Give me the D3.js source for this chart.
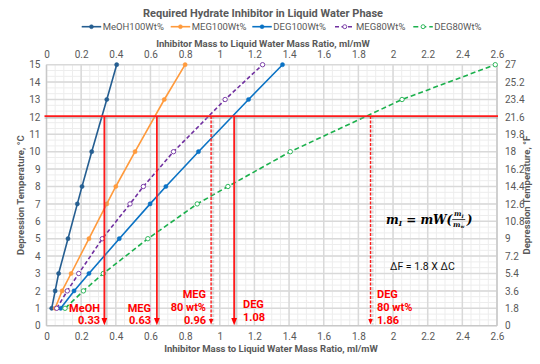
<!DOCTYPE html>
<html><head><meta charset="utf-8">
<script src="https://cdn.jsdelivr.net/npm/d3@7"></script>
<style>
body{margin:0;background:#fff;}
svg{display:block;font-family:Roboto, "Liberation Sans", sans-serif;}
</style></head><body>
<svg id="c" width="540" height="364"></svg>
<script>
// ---- data ----
const depressionC = [1,2,3,5,7,8,10,13,15];
const meoh100 = [0.03,0.05,0.07,0.124,0.178,0.205,0.261,0.348,0.405];
const meg100  = [0.05,0.09,0.142,0.245,0.348,0.40,0.511,0.68,0.80];
const deg100  = [0.082,0.159,0.245,0.42,0.598,0.689,0.877,1.166,1.362];
const meg80   = [0.059,0.12,0.186,0.322,0.482,0.559,0.733,1.031,1.247];
const deg80   = [0.107,0.213,0.328,0.585,0.87,1.047,1.407,2.052,2.59];
const seriesNames = ["MeOH100Wt%","MEG100Wt%","DEG100Wt%","MEG80Wt%","DEG80Wt%"];
const xTicks = [0,0.2,0.4,0.6,0.8,1,1.2,1.4,1.6,1.8,2,2.2,2.4,2.6];
const yTicksC = [0,1,2,3,4,5,6,7,8,9,10,11,12,13,14,15];
const yTicksF = [0,1.8,3.6,5.4,7.2,9,10.8,12.6,14.4,16.2,18,19.8,21.6,23.4,25.2,27];
const targetC = 12.05;
const readX = [0.334,0.637,0.95,1.083,1.87];
const readLabels = [["MeOH","0.33"],["MEG","0.63"],["MEG","80 wt%","0.96"],["DEG","1.08"],["DEG","80 wt%","1.86"]];
const readDashed = [false,false,true,false,true];

const svg = d3.select("#c");
const x = d3.scaleLinear([0,2.6],[46.5,497]);
const y = d3.scaleLinear([0,15],[325.7,64.7]);
const yF = d3.scaleLinear([0,27],[325.7,64.7]);
const grey = "#595959";

// grid
const g = svg.append("g");
d3.range(0,2.6001,0.05).forEach(v=>{
  g.append("line").attr("x1",x(v)).attr("x2",x(v)).attr("y1",y(0)).attr("y2",y(15))
   .attr("stroke","#ededed").attr("stroke-width",1);
});
d3.range(0,15.001,1/3).forEach(v=>{
  g.append("line").attr("x1",x(0)).attr("x2",x(2.6)).attr("y1",y(v)).attr("y2",y(v))
   .attr("stroke","#ededed").attr("stroke-width",1);
});
xTicks.forEach(v=>{
  g.append("line").attr("x1",x(v)).attr("x2",x(v)).attr("y1",y(0)).attr("y2",y(15))
   .attr("stroke","#d9d9d9").attr("stroke-width",1.5);
});
yTicksC.forEach(v=>{
  g.append("line").attr("x1",x(0)).attr("x2",x(2.6)).attr("y1",y(v)).attr("y2",y(v))
   .attr("stroke","#d9d9d9").attr("stroke-width",1.5);
});
[0,2.6].forEach(v=>g.append("line").attr("x1",x(v)).attr("x2",x(v)).attr("y1",y(0)).attr("y2",y(15)).attr("stroke","#c8c8c8").attr("stroke-width",1.3));
g.append("line").attr("x1",x(0)).attr("x2",x(2.6)).attr("y1",y(0)).attr("y2",y(0)).attr("stroke","#c8c8c8").attr("stroke-width",1.3);

// axes
const tickFmt = d => String(d);
const axB = svg.append("g").attr("transform",`translate(0,${y(0)})`)
  .call(d3.axisBottom(x).tickValues(xTicks).tickFormat(tickFmt).tickSize(0).tickPadding(7));
const axT = svg.append("g").attr("transform",`translate(0,${y(15)})`)
  .call(d3.axisTop(x).tickValues(xTicks).tickFormat(tickFmt).tickSize(0).tickPadding(7));
const axL = svg.append("g").attr("transform",`translate(${x(0)},0)`)
  .call(d3.axisLeft(y).tickValues(yTicksC).tickFormat(tickFmt).tickSize(0).tickPadding(6));
const axR = svg.append("g").attr("transform",`translate(${x(2.6)},0)`)
  .call(d3.axisRight(yF).tickValues(yTicksF).tickFormat(tickFmt).tickSize(0).tickPadding(8));
[axB,axT,axL,axR].forEach(a=>{
  a.select(".domain").remove();
  a.selectAll("text").attr("fill",grey).style("font-size","10px").style("font-family","Roboto, sans-serif");
});

// axis titles
const tstyle = s => s.attr("fill",grey).attr("font-weight","bold").style("font-size","9.5px").attr("text-anchor","middle");
svg.append("text").attr("x",263).attr("y",44).attr("dy","0.35em").text("Inhibitor Mass to Liquid Water Mass Ratio, ml/mW").call(tstyle);
svg.append("text").attr("x",271).attr("y",349).attr("dy","0.35em").text("Inhibitor Mass to Liquid Water Mass Ratio, ml/mW").call(tstyle);
svg.append("text").attr("transform",`translate(21,${(y(0)+y(15))/2}) rotate(-90)`).attr("dy","0.35em").text("Depression Temperature, °C").call(tstyle);
svg.append("text").attr("transform",`translate(527,${(y(0)+y(15))/2}) rotate(-90)`).attr("dy","0.35em").text("Depression Temperature, °F").call(tstyle);
svg.append("text").attr("x",263).attr("y",13).attr("dy","0.35em").text("Required Hydrate Inhibitor in Liquid Water Phase")
  .attr("fill",grey).attr("font-weight","bold").style("font-size","11px").attr("text-anchor","middle");

// series
const series = [
  {name:seriesNames[0], vals:meoh100, color:"#255E91", dash:null, open:false},
  {name:seriesNames[1], vals:meg100,  color:"#FF9A3C", dash:null, open:false},
  {name:seriesNames[2], vals:deg100,  color:"#0A72C4", dash:null, open:false},
  {name:seriesNames[3], vals:meg80,   color:"#7030A0", dash:"4,2.5", open:true},
  {name:seriesNames[4], vals:deg80,   color:"#1BB04C", dash:"5,3", open:true},
];
const line = d3.line().x(d=>x(d[0])).y(d=>y(d[1]));
series.forEach(s=>{
  const pts = s.vals.map((v,i)=>[v,depressionC[i]]);
  svg.append("path").datum(pts).attr("d",line).attr("fill","none").attr("stroke",s.color)
    .attr("stroke-width",1.6).attr("stroke-dasharray",s.dash);
  svg.selectAll(null).data(pts).enter().append("circle")
    .attr("cx",d=>x(d[0])).attr("cy",d=>y(d[1])).attr("r",s.open?2.2:2.1)
    .attr("fill",s.open?"#fff":s.color).attr("stroke",s.color).attr("stroke-width",s.open?0.9:0.5);
});

// red reading lines
const defs = svg.append("defs");
defs.append("marker").attr("id","arr").attr("viewBox","0 0 10 10").attr("refX",5).attr("refY",5)
  .attr("markerWidth",4).attr("markerHeight",4).attr("orient","auto")
  .append("path").attr("d","M0,1 L10,5 L0,9 Z").attr("fill","#FF0000");
const red = "#FF1A1A";
svg.append("line").attr("x1",x(0)-2).attr("x2",x(2.6)+1).attr("y1",y(targetC)+2).attr("y2",y(targetC)+2)
  .attr("stroke","#999").attr("stroke-opacity",0.35).attr("stroke-width",2);
readX.forEach((v,i)=>{
  svg.append("line").attr("x1",x(v)+2).attr("x2",x(v)+2).attr("y1",y(targetC)).attr("y2",y(0)-1)
    .attr("stroke","#999").attr("stroke-opacity",0.35).attr("stroke-width",2.2)
    .attr("stroke-dasharray",readDashed[i]?"3,1.5":null);
});
svg.append("line").attr("x1",x(0)-2).attr("x2",x(2.6)+1).attr("y1",y(targetC)).attr("y2",y(targetC))
  .attr("stroke",red).attr("stroke-width",1.8);
readX.forEach((v,i)=>{
  svg.append("line").attr("x1",x(v)).attr("x2",x(v)).attr("y1",y(targetC)).attr("y2",y(0)-4)
    .attr("stroke",red).attr("stroke-width",readDashed[i]?1.4:1.8)
    .attr("stroke-dasharray",readDashed[i]?"3,1.5":null).attr("marker-end","url(#arr)");
});

// red labels
const labelPos = [
  {x:100, anchor:"end", ys:[308.3,320.5]},
  {x:151, anchor:"end", ys:[308.3,320.5]},
  {x:206, anchor:"end", ys:[294,307.5,320.5]},
  {x:243, anchor:"start", ys:[304,316.7]},
  {x:377, anchor:"start", ys:[294.3,307.5,320]},
];
readLabels.forEach((lines,i)=>{
  const p = labelPos[i];
  lines.forEach((t,j)=>{
    svg.append("text").attr("x",p.x).attr("y",p.ys[j]).attr("dy","0.35em").attr("text-anchor",p.anchor)
      .attr("fill","#FF0000").attr("font-weight","bold").style("font-size","11px").text(t);
  });
});

// formula
const serif = "'DejaVu Serif', 'Liberation Serif', serif";
const fx0 = 386, fy = 224;
const f = svg.append("text").attr("x",fx0).attr("y",fy)
  .style("font-family",serif).style("font-style","italic")
  .attr("font-weight","bold").style("font-size","12px").attr("fill","#000");
f.append("tspan").text("m");
f.append("tspan").attr("dy",2).style("font-size","7px").text("I");
f.append("tspan").attr("dy",-2).text(" = mW(");
const w1 = f.node().getComputedTextLength();
const fcx = fx0 + w1 + 6.5;
const fr = svg.append("g").style("font-family",serif)
  .style("font-style","italic").attr("font-weight","bold").attr("fill","#000");
fr.append("text").attr("x",fcx).attr("y",fy-8).attr("text-anchor","middle").style("font-size","7px").text("m")
  .append("tspan").attr("dy",1.5).style("font-size","4.5px").text("I");
fr.append("line").attr("x1",fcx-6.5).attr("x2",fcx+6.5).attr("y1",fy-4.5).attr("y2",fy-4.5).attr("stroke","#000").attr("stroke-width",0.7);
fr.append("text").attr("x",fcx).attr("y",fy+2.5).attr("text-anchor","middle").style("font-size","7px").text("m")
  .append("tspan").attr("dy",1.5).style("font-size","4.5px").text("w");
svg.append("text").attr("x",fcx+8).attr("y",fy).style("font-family",serif).style("font-style","italic")
  .attr("font-weight","bold").style("font-size","12px").text(")");
svg.append("text").attr("x",390).attr("y",266.7).attr("dy","0.35em").style("font-size","10.5px").attr("fill","#111")
  .text("ΔF = 1.8 X ΔC");

// legend
const legX = [81.7,170.7,252.3,335,413.3];
const leg = svg.append("g");
series.forEach((s,i)=>{
  const lx = legX[i], ly = 26.7;
  leg.append("line").attr("x1",lx).attr("x2",lx+19.5).attr("y1",ly).attr("y2",ly)
    .attr("stroke",s.color).attr("stroke-width",1.6).attr("stroke-dasharray",s.dash);
  leg.append("circle").attr("cx",lx+9.75).attr("cy",ly).attr("r",2).attr("fill",s.open?"#fff":s.color)
    .attr("stroke",s.color).attr("stroke-width",s.open?0.9:0.5);
  leg.append("text").attr("x",lx+21).attr("y",ly).attr("dy","0.35em").attr("fill",grey)
    .style("font-size","9.5px").text(s.name);
});
</script></body></html>
